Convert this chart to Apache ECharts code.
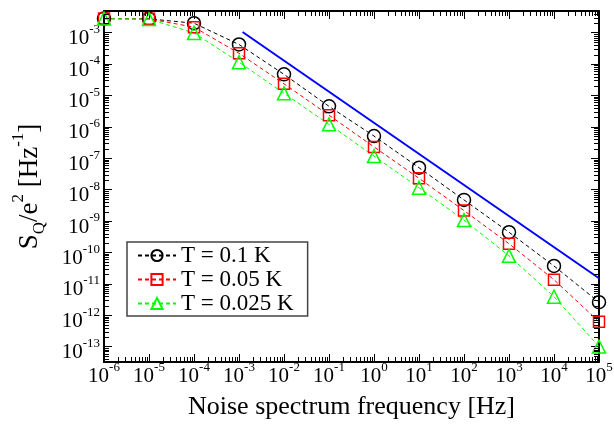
<!DOCTYPE html>
<html>
<head>
<meta charset="utf-8">
<script src="https://cdn.jsdelivr.net/npm/echarts@6/dist/echarts.min.js"></script>
<style>
  html, body { margin: 0; padding: 0; background: #fff; }
  #main { width: 614px; height: 424px; }
</style>
</head>
<body>
<div id="main"></div>
<script>
// 频率 (Hz)
const freq = [1e-6, 1e-5, 1e-4, 1e-3, 1e-2, 1e-1, 1e0, 1e1, 1e2, 1e3, 1e4, 1e5];
// S_Q/e^2 (Hz^-1)
const sq_01 = [2.8e-3, 2.75e-3, 2.0e-3, 4.2e-4, 4.7e-5, 4.5e-6, 5.1e-7, 5.0e-8, 4.7e-9, 4.4e-10, 3.7e-11, 2.6e-12];
const sq_005 = [2.8e-3, 2.75e-3, 1.5e-3, 2.2e-4, 2.35e-5, 2.35e-6, 2.3e-7, 2.3e-8, 2.15e-9, 1.9e-10, 1.35e-11, 6.2e-13];
const sq_0025 = [2.8e-3, 2.7e-3, 9.8e-4, 1.15e-4, 1.17e-5, 1.2e-6, 1.17e-7, 1.15e-8, 1.07e-9, 7.8e-11, 3.9e-12, 1.0e-13];
// 1/f 参考线
const refFreq = [1.2e-3, 1e5];
const refSq = [1.05e-3, 1.5e-11];
const seriesNames = ['T = 0.1 K', 'T = 0.05 K', 'T = 0.025 K'];
// 坐标轴范围 (10 的指数)
const xRange = [-6, 5];
const yRange = [-13.49, -2.31];

const FONT = 'Liberation Serif';
const toLog = (xs, ys) => xs.map((x, i) => [Math.log10(x), Math.log10(ys[i])]);

// 对数次刻度 2..9
function minorTicks(lo, hi) {
  const out = [];
  for (let n = Math.floor(lo); n < hi; n++) {
    for (let k = 2; k <= 9; k++) {
      const v = n + Math.log10(k);
      if (v > lo && v < hi) out.push(v);
    }
  }
  return out;
}
const xMinor = minorTicks(xRange[0], xRange[1]);
const yMinor = minorTicks(yRange[0], yRange[1]);

function powLabel(v) {
  if (Math.abs(v - Math.round(v)) > 1e-6) return '';
  return '{b|10}{s|' + Math.round(v) + '}';
}
// 上标：不设 lineHeight，用 padding 撑高行
const labelRich = {
  b: { fontFamily: FONT, fontSize: 21, color: '#000', padding: [5, 0, 0, 0], verticalAlign: 'bottom' },
  s: { fontFamily: FONT, fontSize: 13, color: '#000', verticalAlign: 'top' }
};

const axisLine = { show: true, onZero: false, lineStyle: { color: '#000', width: 2 } };
const axisTick = { show: true, inside: true, length: 8, lineStyle: { color: '#000', width: 1 } };

function markerSeries(name, data, symbol, size, color) {
  return {
    name: name,
    type: 'line',
    data: data,
    symbol: symbol,
    symbolSize: size,
    clip: false,
    itemStyle: { color: 'transparent', borderColor: color, borderWidth: 1.5 },
    lineStyle: { color: color, width: 1, type: [4, 3] },
    z: 3
  };
}

const chart = echarts.init(document.getElementById('main'), null, { renderer: 'canvas' });

const option = {
  animation: false,
  backgroundColor: '#fff',
  grid: { left: 104, right: 15, top: 11, bottom: 62, outerBoundsMode: 'none' },
  legend: {
    data: seriesNames,
    orient: 'vertical',
    left: 127,
    top: 242,
    padding: [2, 14, 1, 10],
    itemGap: 1,
    itemWidth: 38,
    itemHeight: 14,
    backgroundColor: '#fff',
    borderColor: '#444',
    borderWidth: 1.5,
    borderRadius: 0,
    textStyle: { fontFamily: FONT, fontSize: 23, color: '#000', lineHeight: 21.5 }
  },
  xAxis: [{
    type: 'value',
    position: 'bottom',
    min: xRange[0],
    max: xRange[1],
    interval: 1,
    axisLine: axisLine,
    axisTick: axisTick,
    splitLine: { show: false },
    axisLabel: { margin: -1, formatter: powLabel, rich: labelRich },
    name: 'Noise spectrum frequency [Hz]',
    nameLocation: 'middle',
    nameGap: 32,
    nameTextStyle: { fontFamily: FONT, fontSize: 26, color: '#000' }
  }, {
    type: 'value',
    position: 'top',
    min: xRange[0],
    max: xRange[1],
    interval: 1,
    axisLine: axisLine,
    axisTick: axisTick,
    splitLine: { show: false },
    axisLabel: { show: false }
  }],
  yAxis: [{
    type: 'value',
    position: 'left',
    min: yRange[0],
    max: yRange[1],
    splitNumber: 11,
    axisLine: axisLine,
    axisTick: axisTick,
    splitLine: { show: false },
    axisLabel: { margin: 4, formatter: powLabel, rich: labelRich, padding: [7, 0, 0, 0] },
    name: '{t|S}{sub|Q}{t|/e}{sup|2}{t| [Hz}{sup|-1}{t|]}',
    nameLocation: 'middle',
    nameRotate: 90,
    nameGap: 56,
    nameTextStyle: {
      fontFamily: FONT, fontSize: 27, color: '#000',
      rich: {
        t: { fontFamily: FONT, fontSize: 27, color: '#000', padding: [6, 0, 5, 0] },
        sub: { fontFamily: FONT, fontSize: 17, color: '#000', verticalAlign: 'bottom' },
        sup: { fontFamily: FONT, fontSize: 17, color: '#000', verticalAlign: 'top' }
      }
    }
  }, {
    type: 'value',
    position: 'right',
    min: yRange[0],
    max: yRange[1],
    splitNumber: 11,
    axisLine: axisLine,
    axisTick: axisTick,
    splitLine: { show: false },
    axisLabel: { show: false }
  }],
  series: [
    {
      // 对数次刻度（四边）
      type: 'custom',
      silent: true,
      clip: false,
      data: [[0, -8]],
      z: 5,
      renderItem: function (params, api) {
        const cs = params.coordSys;
        const l = cs.x, r = cs.x + cs.width, t = cs.y, b = cs.y + cs.height;
        const st = { stroke: '#000', lineWidth: 1 };
        const children = [];
        xMinor.forEach(function (v) {
          const px = Math.round(api.coord([v, yRange[0]])[0]) + 0.5;
          children.push({ type: 'line', shape: { x1: px, y1: b, x2: px, y2: b - 5 }, style: st });
          children.push({ type: 'line', shape: { x1: px, y1: t, x2: px, y2: t + 5 }, style: st });
        });
        yMinor.forEach(function (v) {
          const py = Math.round(api.coord([xRange[0], v])[1]) + 0.5;
          children.push({ type: 'line', shape: { x1: l, y1: py, x2: l + 5, y2: py }, style: st });
          children.push({ type: 'line', shape: { x1: r, y1: py, x2: r - 5, y2: py }, style: st });
        });
        return { type: 'group', children: children };
      }
    },
    {
      name: '1/f',
      type: 'line',
      data: toLog(refFreq, refSq),
      symbol: 'none',
      clip: false,
      lineStyle: { color: '#0000ff', width: 2 },
      z: 2
    },
    markerSeries(seriesNames[0], toLog(freq, sq_01), 'circle', 13, '#000000'),
    markerSeries(seriesNames[1], toLog(freq, sq_005), 'rect', 11, '#ff0000'),
    markerSeries(seriesNames[2], toLog(freq, sq_0025), 'triangle', 13, '#00ff00')
  ]
};

chart.setOption(option);
</script>
</body>
</html>
